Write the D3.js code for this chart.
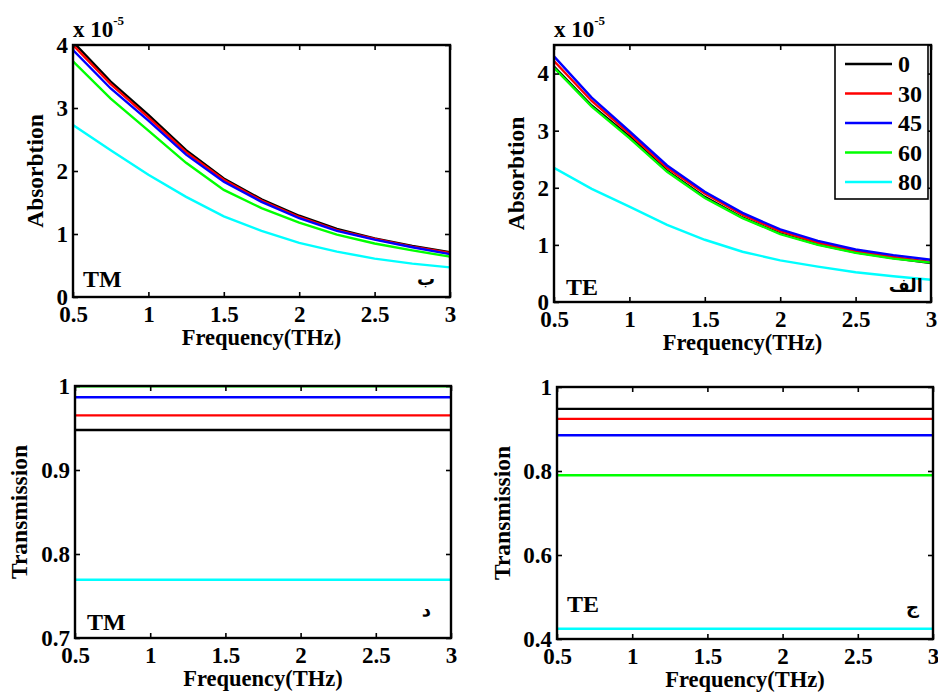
<!DOCTYPE html>
<html>
<head>
<meta charset="utf-8">
<script src="https://cdn.jsdelivr.net/npm/d3@7"></script>
<style>
  body { margin: 0; background: #fff; }
  svg text { font-family: "Liberation Serif", "Times New Roman", serif; font-weight: bold; fill: #000; }
  svg .tick text { font-size: 23px; }
  .arabic { font-family: "DejaVu Sans", sans-serif; }
</style>
</head>
<body>
<div id="chart"></div>
<script>
// angles (legend) and their colours
const angles = ["0", "30", "45", "60", "80"];
const colors = ["#000000", "#ff0000", "#0000ff", "#00ff00", "#00ffff"];

// frequency samples (THz)
const freq = [0.5, 0.75, 1, 1.25, 1.5, 1.75, 2, 2.25, 2.5, 2.75, 3];

// TM absorption (x 1e-5), one array per angle
const tmAbs0  = [4.05, 3.42, 2.89, 2.33, 1.88, 1.55, 1.29, 1.08, 0.93, 0.81, 0.71];
const tmAbs30 = [4.00, 3.38, 2.85, 2.30, 1.86, 1.53, 1.27, 1.06, 0.92, 0.80, 0.70];
const tmAbs45 = [3.92, 3.31, 2.80, 2.26, 1.83, 1.51, 1.25, 1.05, 0.91, 0.79, 0.68];
const tmAbs60 = [3.74, 3.15, 2.64, 2.13, 1.70, 1.41, 1.18, 0.99, 0.85, 0.74, 0.64];
const tmAbs80 = [2.73, 2.33, 1.94, 1.59, 1.28, 1.05, 0.86, 0.72, 0.61, 0.53, 0.47];

// TE absorption (x 1e-5)
const teAbs0  = [4.12, 3.44, 2.90, 2.30, 1.84, 1.48, 1.20, 1.01, 0.87, 0.77, 0.68];
const teAbs30 = [4.22, 3.52, 2.95, 2.35, 1.90, 1.53, 1.24, 1.04, 0.89, 0.79, 0.70];
const teAbs45 = [4.30, 3.58, 2.99, 2.39, 1.93, 1.56, 1.27, 1.07, 0.92, 0.82, 0.74];
const teAbs60 = [4.10, 3.42, 2.87, 2.28, 1.82, 1.47, 1.19, 1.00, 0.86, 0.76, 0.69];
const teAbs80 = [2.35, 1.98, 1.67, 1.35, 1.09, 0.88, 0.73, 0.62, 0.52, 0.45, 0.39];

// transmission (flat over frequency), one value per angle
const tmTrans = [0.9477, 0.965, 0.9866, 0.9995, 0.7693];
const teTrans = [0.948, 0.924, 0.885, 0.79, 0.4245];

const freqTicks = [0.5, 1, 1.5, 2, 2.5, 3];

const svg = d3.select("#chart").append("svg")
  .attr("width", 938).attr("height", 692);

function panel(opt) {
  var g = svg.append("g").attr("transform", "translate(" + opt.left + "," + opt.top + ")");
  var w = opt.width, h = opt.height;
  var x = d3.scaleLinear().domain([0.5, 3]).range([0, w]);
  var y = d3.scaleLinear().domain(opt.yDomain).range([h, 0]);

  var clipId = "clip" + opt.id;
  g.append("clipPath").attr("id", clipId)
    .append("rect").attr("width", w).attr("height", h);

  var line = d3.line().x(d => x(d[0])).y(d => y(d[1]));
  var lines = g.append("g").attr("clip-path", "url(#" + clipId + ")");
  opt.series.forEach(function (s, i) {
    lines.append("path")
      .attr("d", line(s))
      .attr("fill", "none")
      .attr("stroke", colors[i])
      .attr("stroke-width", 2.4);
  });

  // axes, ticks pointing inward on all four sides
  var fmt = opt.fmt || (d => d);
  g.append("g").attr("transform", "translate(0," + h + ")")
    .call(d3.axisBottom(x).tickValues(freqTicks).tickSize(-5).tickPadding(9).tickFormat(d => d))
    .call(a => a.select(".domain").remove());
  g.append("g")
    .call(d3.axisLeft(y).tickValues(opt.yTicks).tickSize(-5).tickPadding(5).tickFormat(fmt))
    .call(a => a.select(".domain").remove());
  g.append("g")
    .call(d3.axisTop(x).tickValues(freqTicks).tickSize(-5).tickFormat(""))
    .call(a => a.select(".domain").remove());
  g.append("g").attr("transform", "translate(" + w + ",0)")
    .call(d3.axisRight(y).tickValues(opt.yTicks).tickSize(-5).tickFormat(""))
    .call(a => a.select(".domain").remove());
  g.selectAll(".tick line").attr("stroke", "#000").attr("stroke-width", 1.6);
  g.selectAll("g").attr("font-size", null).attr("font-family", null);

  g.append("rect").attr("width", w).attr("height", h)
    .attr("fill", "none").attr("stroke", "#000").attr("stroke-width", 2.4);

  // axis labels
  g.append("text")
    .attr("x", w / 2).attr("y", h + 48)
    .attr("text-anchor", "middle").style("font-size", "22.5px")
    .text("Frequency(THz)");
  g.append("text")
    .attr("transform", "translate(" + opt.ylabX + "," + (h / 2) + ") rotate(-90)")
    .attr("text-anchor", "middle").attr("dy", "0.35em").style("font-size", "23.5px")
    .text(opt.ylabel);

  if (opt.exponent) {
    var t = g.append("text").attr("x", 0).attr("y", -8).style("font-size", "23px");
    t.append("tspan").text("x 10");
    t.append("tspan").attr("dy", -12).style("font-size", "13px").text("-5");
  }

  // mode and panel letter
  g.append("text").attr("x", opt.modeX).attr("y", opt.modeY)
    .style("font-size", "24px").text(opt.mode);
  g.append("text").attr("class", "arabic")
    .attr("x", opt.letterX).attr("y", opt.letterY)
    .attr("text-anchor", "end")
    .style("font-size", "18px").text(opt.letter);

  return { g: g, x: x, y: y };
}

function curves(arrs) {
  return arrs.map(a => freq.map((f, i) => [f, a[i]]));
}
function flat(vals) {
  return vals.map(v => [[0.5, v], [3, v]]);
}

panel({
  id: 1, left: 73, top: 45, width: 377, height: 252,
  yDomain: [0, 4], yTicks: [0, 1, 2, 3, 4],
  series: curves([tmAbs0, tmAbs30, tmAbs45, tmAbs60, tmAbs80]),
  ylabel: "Absorbtion", ylabX: -38, exponent: true,
  mode: "TM", modeX: 10, modeY: 242,
  letter: "ب", letterX: 362, letterY: 240
});

var te = panel({
  id: 2, left: 554, top: 45, width: 377, height: 257,
  yDomain: [0, 4.5], yTicks: [0, 1, 2, 3, 4],
  series: curves([teAbs0, teAbs30, teAbs45, teAbs60, teAbs80]),
  ylabel: "Absorbtion", ylabX: -38, exponent: true,
  mode: "TE", modeX: 12, modeY: 250,
  letter: "الف", letterX: 369, letterY: 247
});

panel({
  id: 3, left: 75, top: 386, width: 376, height: 252,
  yDomain: [0.7, 1], yTicks: [0.7, 0.8, 0.9, 1],
  series: flat(tmTrans),
  ylabel: "Transmission", ylabX: -56,
  mode: "TM", modeX: 12, modeY: 244,
  letter: "د", letterX: 356, letterY: 230
});

panel({
  id: 4, left: 557, top: 387, width: 376, height: 252,
  yDomain: [0.4, 1], yTicks: [0.4, 0.6, 0.8, 1],
  series: flat(teTrans),
  ylabel: "Transmission", ylabX: -55,
  mode: "TE", modeX: 10, modeY: 225,
  letter: "ج", letterX: 362, letterY: 226
});

// legend inside TE absorption panel
var leg = te.g.append("g").attr("transform", "translate(281,0)");
leg.append("rect").attr("width", 93).attr("height", 154)
  .attr("fill", "#fff").attr("stroke", "#000").attr("stroke-width", 1.6);
angles.forEach(function (a, i) {
  var yy = 19 + i * 29.5;
  leg.append("line").attr("x1", 10).attr("x2", 57).attr("y1", yy).attr("y2", yy)
    .attr("stroke", colors[i]).attr("stroke-width", 2.4);
  leg.append("text").attr("x", 63).attr("y", yy).attr("dy", "0.35em")
    .style("font-size", "24px").text(a);
});
</script>
</body>
</html>
